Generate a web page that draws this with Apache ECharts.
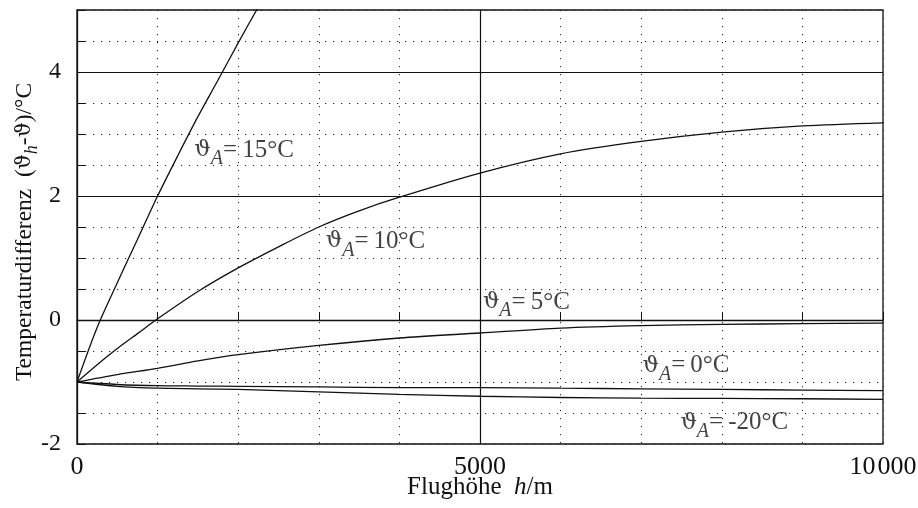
<!DOCTYPE html>
<html><head><meta charset="utf-8">
<script src="https://cdn.jsdelivr.net/npm/echarts@6/dist/echarts.min.js"></script>
<style>html,body{margin:0;padding:0;background:#fff}#c{width:918px;height:508px}</style>
</head><body><div id="c"></div>
<script>
// ---- data ----
const h15 = [0, 250, 500, 750, 1000, 1250, 1500, 1750, 2000, 2250];
const t15 = [-1, -0.12, 0.6, 1.3, 2.0, 2.65, 3.28, 3.87, 4.47, 5.05];
const h10 = [0, 250, 500, 750, 1000, 1500, 2000, 2500, 3000, 3500, 4000, 5000, 6000, 7000, 8000, 9000, 10000];
const t10 = [-1, -0.72, -0.46, -0.22, 0.02, 0.46, 0.84, 1.18, 1.5, 1.76, 1.98, 2.37, 2.68, 2.88, 3.03, 3.13, 3.18];
const hLow = [0, 500, 1000, 1500, 2000, 3000, 4000, 5000, 6000, 7000, 8000, 9000, 10000];
const t5 = [-1, -0.88, -0.78, -0.66, -0.56, -0.41, -0.29, -0.21, -0.13, -0.09, -0.07, -0.06, -0.05];
const t0 = [-1, -1.04, -1.06, -1.065, -1.07, -1.08, -1.09, -1.09, -1.10, -1.11, -1.12, -1.13, -1.14];
const tm20 = [-1, -1.07, -1.10, -1.11, -1.12, -1.16, -1.20, -1.23, -1.25, -1.26, -1.265, -1.27, -1.28];
const curveNames = ['15°C', '10°C', '5°C', '0°C', '-20°C'];
const labelH = [1450, 3080, 5030, 7010, 7480];
const labelV = [2.74, 1.27, 0.29, -0.74, -1.66];
const xLabelValues = [0, 5000, 10000];
const xLabelTexts = ['0', '5000', '10\u200a000'];
const yLabelValues = [-2, 0, 2, 4];
const solidX = [5000];
const solidY = [0, 2, 4];

// ---- chart ----
const FONT = '"Liberation Serif", "DejaVu Serif", serif';
const zip = (a, b) => a.map((v, i) => [v, b[i]]);
const curves = [zip(h15, t15), zip(h10, t10), zip(hLow, t5), zip(hLow, t0), zip(hLow, tm20)];
const dotted = { color: '#222', width: 1, type: [1.2, 6.8] };

const chart = echarts.init(document.getElementById('c'), null, { renderer: 'canvas' });
const series = curves.map((d, i) => ({
  type: 'line', name: curveNames[i], data: d, showSymbol: false, smooth: 0.3,
  clip: true, lineStyle: { color: '#111', width: 1.3 }, z: 3,
  markLine: i === 0 ? {
    silent: true, symbol: 'none', label: { show: false },
    lineStyle: { color: '#111', width: 1.2, type: 'solid' },
    data: solidX.map(v => ({ xAxis: v })).concat(solidY.map(v => ({ yAxis: v })))
  } : undefined
}));
series.push({
  type: 'scatter', symbolSize: 1, itemStyle: { color: 'rgba(0,0,0,0)' }, z: 5,
  data: labelH.map((h, i) => [h, labelV[i], curveNames[i]]),
  label: {
    show: true, position: 'right', distance: 0,
    formatter: p => '{g|ϑ}{s|A}{t|=\u2009' + p.data[2] + '}',
    rich: {
      g: { fontFamily: '"DejaVu Serif", serif', fontSize: 23, color: '#111', lineHeight: 26 },
      t: { fontFamily: FONT, fontSize: 25, color: '#111', lineHeight: 26 },
      s: { fontFamily: FONT, fontSize: 20, fontStyle: 'italic', color: '#111', lineHeight: 16, padding: [18, 0, 0, 0] }
    }
  }
});

chart.setOption({
  animation: false,
  backgroundColor: '#fff',
  grid: { left: 77, right: 35, top: 10, bottom: 64, show: true, borderColor: '#111', borderWidth: 1.3,
    outerBoundsMode: 'none', containLabel: false },
  xAxis: {
    type: 'value', min: 0, max: 10000, interval: 1000,
    name: '{a|Flughöhe  }{i|h}{a|/m}', nameLocation: 'middle', nameGap: 31, nameMoveOverlap: false,
    nameTextStyle: { rich: {
      a: { fontFamily: FONT, fontSize: 25, color: '#111' },
      i: { fontFamily: FONT, fontSize: 25, fontStyle: 'italic', color: '#111' } } },
    axisLine: { lineStyle: { color: '#111', width: 1.3 } },
    axisTick: { inside: true, length: 8, lineStyle: { color: '#111' } },
    axisLabel: { margin: 10, fontFamily: FONT, fontSize: 26, color: '#111',
      formatter: v => { const k = xLabelValues.indexOf(v); return k >= 0 ? xLabelTexts[k] : ''; } },
    splitLine: { show: true, lineStyle: dotted }
  },
  yAxis: {
    type: 'value', min: -2, max: 5, interval: 0.5,
    name: '{a|Temperaturdifferenz  (}{g|ϑ}{s|h}{a|-}{g|ϑ}{a|)/°C}', nameLocation: 'middle', nameGap: 40, nameMoveOverlap: false,
    nameTextStyle: { padding: [0, 10, 0, 0], rich: {
      a: { fontFamily: FONT, fontSize: 23.5, color: '#111', lineHeight: 24 },
      g: { fontFamily: '"DejaVu Serif", serif', fontSize: 21, color: '#111', lineHeight: 24 },
      s: { fontFamily: FONT, fontSize: 18, fontStyle: 'italic', color: '#111', lineHeight: 14, padding: [14, 0, 0, 0] } } },
    axisLine: { show: true, lineStyle: { color: '#111', width: 1.3 } },
    axisTick: { show: true, inside: true, length: 8, lineStyle: { color: '#111' } },
    axisLabel: { margin: 16, fontFamily: FONT, fontSize: 24, color: '#111',
      formatter: v => yLabelValues.indexOf(v) >= 0 ? String(v) : '' },
    splitLine: { show: true, lineStyle: dotted }
  },
  series: series
});
</script></body></html>
